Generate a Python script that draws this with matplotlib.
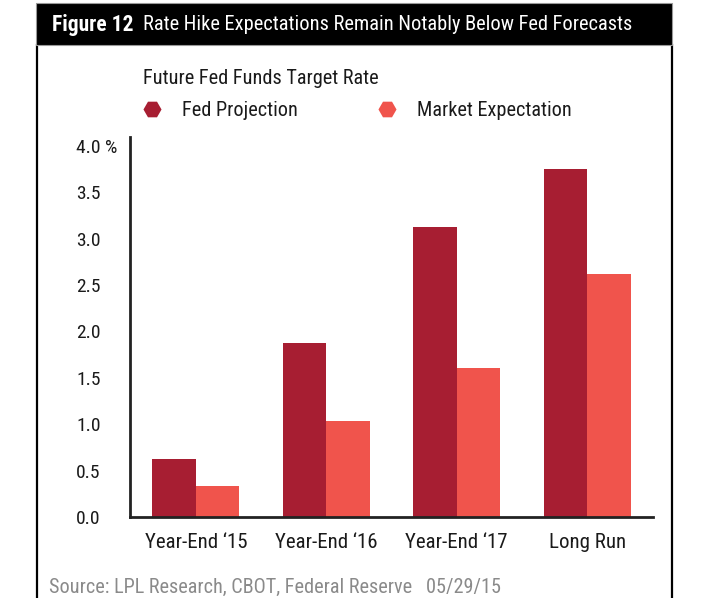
import matplotlib
matplotlib.use("Agg")
import matplotlib.pyplot as plt
from matplotlib import font_manager as fm
from matplotlib.lines import Line2D
from matplotlib.patches import Rectangle
import numpy as np

# ---- data ----
categories = ["Year-End \u201815", "Year-End \u201816", "Year-End \u201817", "Long Run"]
fed_projection = [0.625, 1.875, 3.125, 3.75]
market_expectation = [0.33, 1.03, 1.61, 2.62]
y_ticks = [0.0, 0.5, 1.0, 1.5, 2.0, 2.5, 3.0, 3.5, 4.0]
y_tick_labels = ["0.0", "0.5", "1.0", "1.5", "2.0", "2.5", "3.0", "3.5", "4.0 %"]
series_names = ["Fed Projection", "Market Expectation"]
legend_title = "Future Fed Funds Target Rate"
fig_label = "Figure 12"
fig_title = "Rate Hike Expectations Remain Notably Below Fed Forecasts"
source = "Source: LPL Research, CBOT, Federal Reserve   05/29/15"

FED_C = "#A71E32"
MKT_C = "#F0544C"

# ---- font choice (prefer a condensed face) ----
names = {f.name for f in fm.fontManager.ttflist}
font = None
stretch = "normal"
for cand in ["Roboto Condensed", "Liberation Sans Narrow", "Open Sans Condensed", "Noto Sans Condensed"]:
    if cand in names:
        font = cand
        break
if font is None:
    if any(f.name == "DejaVu Sans" and str(f.stretch) == "condensed" for f in fm.fontManager.ttflist):
        font = "DejaVu Sans"
        stretch = "condensed"
    else:
        font = "Roboto"
plt.rcParams["font.family"] = [font, "DejaVu Sans"]
plt.rcParams["font.stretch"] = stretch

W, H = 709, 598
fig = plt.figure(figsize=(W / 100, H / 100), dpi=100)

def fx(px):
    return px / W

def fy(py):
    return 1 - py / H

# frame and title bar
fig.patches.append(Rectangle((fx(36), fy(45)), fx(672) - fx(36), fy(3) - fy(45),
                             transform=fig.transFigure, facecolor="black",
                             edgecolor="#999999", linewidth=0.8, zorder=5))
fig.add_artist(Line2D([fx(37), fx(37)], [fy(45), 0], transform=fig.transFigure,
                      color="black", linewidth=1.6))
fig.add_artist(Line2D([fx(672), fx(672)], [fy(45), 0], transform=fig.transFigure,
                      color="black", linewidth=1.6))
fig.text(fx(52), fy(25), fig_label, color="white", fontsize=15.5, fontweight="bold",
         va="center", ha="left", zorder=6)
fig.text(fx(143), fy(25), fig_title, color="white", fontsize=14.7,
         va="center", ha="left", zorder=6)

# axes
ax_left, ax_right = 130, 653
ax_bottom, ax_top = 517, 136.7
ax = fig.add_axes([fx(ax_left), fy(ax_bottom), fx(ax_right) - fx(ax_left), fy(ax_top) - fy(ax_bottom)])

x = np.arange(len(categories))
w = 0.334
ax.bar(x - w / 2, fed_projection, width=w, color=FED_C, linewidth=0, zorder=2)
ax.bar(x + w / 2, market_expectation, width=w, color=MKT_C, linewidth=0, zorder=2)

ax.set_xlim(-0.505, 3.505)
ax.set_ylim(0, 4.1)
ax.set_yticks(y_ticks)
ax.set_yticklabels(y_tick_labels)
ax.set_xticks(x)
ax.set_xticklabels(categories)
for s in ["top", "right"]:
    ax.spines[s].set_visible(False)
for s in ["left", "bottom"]:
    ax.spines[s].set_linewidth(2.0)
    ax.spines[s].set_color("#222222")
ax.tick_params(axis="both", length=0, colors="#1a1a1a")
ax.tick_params(axis="y", pad=(ax_left - 76) * 0.72, labelsize=14)
ax.tick_params(axis="x", pad=11.5, labelsize=15)
for lab in ax.get_yticklabels():
    lab.set_horizontalalignment("left")

# legend
handles = [Line2D([], [], marker="H", linestyle="none", markersize=13, color=FED_C, markeredgewidth=0),
           Line2D([], [], marker="H", linestyle="none", markersize=13, color=MKT_C, markeredgewidth=0)]
leg = fig.legend(handles, series_names, title=legend_title, ncol=2, frameon=False,
                 loc="upper left", bbox_to_anchor=(fx(143), fy(69.5)),
                 fontsize=14.6, title_fontsize=14.6, alignment="left",
                 handlelength=0.89, handletextpad=1.03, columnspacing=3.94,
                 borderpad=0, borderaxespad=0, labelspacing=0.3)
for t in leg.get_texts():
    t.set_color("#1a1a1a")
leg.get_title().set_color("#1a1a1a")
leg._legend_box.sep = 9

fig.text(fx(49), fy(587), source, color="#8a8a8a", fontsize=14.6, va="center", ha="left")

fig.savefig("out.png", dpi=100, facecolor="white")
